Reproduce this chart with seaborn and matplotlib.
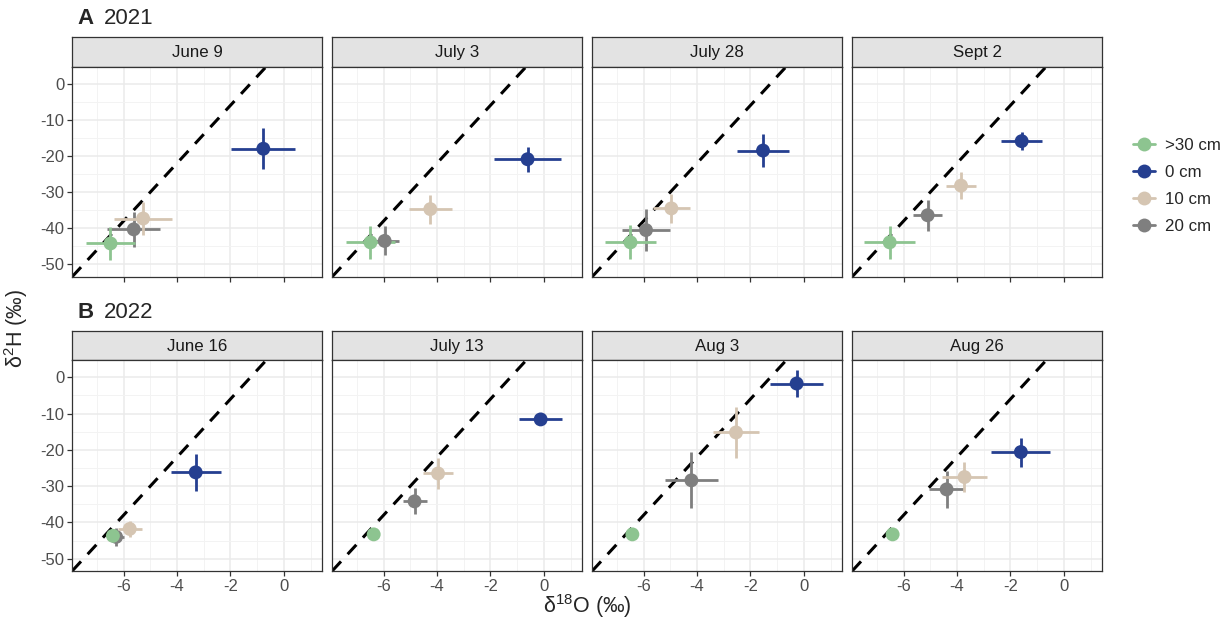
import numpy as np
import pandas as pd
import matplotlib
matplotlib.use("Agg")
import matplotlib.pyplot as plt
import seaborn as sns
from matplotlib.lines import Line2D
from matplotlib.ticker import MultipleLocator

# ---- data -------------------------------------------------------------
dates = ["June 9", "July 3", "July 28", "Sept 2",
         "June 16", "July 13", "Aug 3", "Aug 26"]
years = [2021, 2021, 2021, 2021, 2022, 2022, 2022, 2022]
depths = [">30 cm", "0 cm", "10 cm", "20 cm"]

# mean d18O per depth, one value per sampling date
d18O_30 = [-6.49, -6.49, -6.49, -6.52, -6.40, -6.37, -6.42, -6.41]
d18O_0 = [-0.77, -0.61, -1.53, -1.58, -3.30, -0.12, -0.27, -1.61]
d18O_10 = [-5.27, -4.25, -4.96, -3.85, -5.77, -3.96, -2.54, -3.72]
d18O_20 = [-5.62, -5.96, -5.91, -5.10, -6.28, -4.84, -4.21, -4.39]

# standard deviation of d18O
d18O_sd_30 = [0.90, 0.93, 0.95, 0.95, 0.05, 0.05, 0.05, 0.05]
d18O_sd_0 = [1.20, 1.25, 0.96, 0.77, 0.93, 0.80, 1.00, 1.10]
d18O_sd_10 = [1.10, 0.80, 0.70, 0.56, 0.45, 0.56, 0.85, 0.86]
d18O_sd_20 = [1.00, 0.55, 0.90, 0.53, 0.30, 0.45, 0.98, 0.67]

# mean d2H
d2H_30 = [-44.2, -43.9, -43.9, -43.9, -43.7, -43.3, -43.3, -43.3]
d2H_0 = [-18.0, -20.9, -18.5, -15.9, -26.2, -11.6, -1.7, -20.6]
d2H_10 = [-37.3, -34.7, -34.5, -28.2, -41.8, -26.5, -15.2, -27.5]
d2H_20 = [-40.3, -43.5, -40.5, -36.4, -44.0, -34.2, -28.4, -30.9]

# standard deviation of d2H
d2H_sd_30 = [4.5, 4.6, 4.7, 4.6, 0.3, 0.3, 0.3, 0.3]
d2H_sd_0 = [5.7, 3.5, 4.5, 2.5, 5.2, 1.0, 3.8, 4.0]
d2H_sd_10 = [4.6, 4.0, 4.1, 3.8, 2.3, 4.2, 7.1, 4.2]
d2H_sd_20 = [4.9, 4.0, 5.9, 4.25, 2.5, 3.6, 7.7, 5.0]

# Global Meteoric Water Line: d2H = 8 * d18O + 10
gmwl_slope = 8
gmwl_intercept = 10

palette = {">30 cm": "#8DC490", "0 cm": "#253F90",
           "10 cm": "#D5C5B2", "20 cm": "#7F7F7F"}
draw_order = ["20 cm", "10 cm", "0 cm", ">30 cm"]

rows = []
for depth, xo, xs, yh, ys in [
    (">30 cm", d18O_30, d18O_sd_30, d2H_30, d2H_sd_30),
    ("0 cm", d18O_0, d18O_sd_0, d2H_0, d2H_sd_0),
    ("10 cm", d18O_10, d18O_sd_10, d2H_10, d2H_sd_10),
    ("20 cm", d18O_20, d18O_sd_20, d2H_20, d2H_sd_20),
]:
    for i, date in enumerate(dates):
        rows.append(dict(date=date, year=years[i], depth=depth,
                         d18O=xo[i], d18O_sd=xs[i], d2H=yh[i], d2H_sd=ys[i]))
df = pd.DataFrame(rows)

# ---- styling ----------------------------------------------------------
sns.set_theme(style="white")
plt.rcParams["font.family"] = ["Liberation Sans", "DejaVu Sans"]
plt.rcParams["mathtext.fontset"] = "custom"
plt.rcParams["mathtext.rm"] = "Liberation Sans"
plt.rcParams["mathtext.it"] = "Liberation Sans:italic"

W, H = 1231, 630
fig = plt.figure(figsize=(W / 100, H / 100), dpi=100)
fig.patch.set_facecolor("white")


def px_axes(x0, y0, x1, y1):
    return fig.add_axes([x0 / W, 1 - y1 / H, (x1 - x0) / W, (y1 - y0) / H])


panel_left = [72.3, 332.3, 592.3, 852.3]
panel_w = 249.5
row_geom = {2021: (37.3, 66.7, 276.7), 2022: (331.0, 360.3, 571.0)}
xlim = (-7.92, 1.42)
ylim = (-53.4, 4.7)
border = "#333333"

for idx, date in enumerate(dates):
    year = years[idx]
    col = idx % 4
    s_top, p_top, p_bot = row_geom[year]
    x0 = panel_left[col]
    x1 = x0 + panel_w

    # facet strip
    sax = px_axes(x0, s_top, x1, p_top)
    sax.set_facecolor("#E3E3E3")
    sax.set_xticks([]); sax.set_yticks([])
    for sp in sax.spines.values():
        sp.set_color(border); sp.set_linewidth(0.9); sp.set_visible(True)
    sax.text(0.5, 0.47, date, ha="center", va="center", fontsize=12.2,
             color="#1A1A1A", transform=sax.transAxes)

    ax = px_axes(x0, p_top, x1, p_bot)
    ax.set_facecolor("white")
    ax.set_xlim(*xlim); ax.set_ylim(*ylim)
    ax.xaxis.set_major_locator(MultipleLocator(2))
    ax.xaxis.set_minor_locator(MultipleLocator(1))
    ax.yaxis.set_major_locator(MultipleLocator(10))
    ax.yaxis.set_minor_locator(MultipleLocator(5))
    ax.grid(which="major", color="#EBEBEB", linewidth=1.1, zorder=0)
    ax.grid(which="minor", color="#F3F3F3", linewidth=0.7, zorder=0)
    ax.set_axisbelow(True)
    for sp in ax.spines.values():
        sp.set_color(border); sp.set_linewidth(0.9); sp.set_visible(True)

    ax.axline((0, gmwl_intercept), slope=gmwl_slope, color="black",
              linewidth=2.2, linestyle=(0, (4.2, 3.2)), zorder=2)

    sub = df[df["date"] == date]
    for depth in draw_order:
        r = sub[sub["depth"] == depth]
        ax.errorbar(r["d18O"], r["d2H"], xerr=r["d18O_sd"], yerr=r["d2H_sd"],
                    fmt="none", ecolor=palette[depth], elinewidth=2.0,
                    capsize=0, zorder=3)
    pts = sub.set_index("depth").loc[draw_order].reset_index()
    sns.scatterplot(data=pts, x="d18O", y="d2H", hue="depth",
                    hue_order=depths, palette=palette, s=100, linewidth=0,
                    legend=False, ax=ax, zorder=4)
    ax.set_xlabel(""); ax.set_ylabel("")

    ax.tick_params(axis="both", which="major", length=3.5, width=0.9,
                   color=border, labelsize=12, labelcolor="#4D4D4D",
                   direction="out", pad=2)
    ax.tick_params(which="minor", length=0)
    ax.tick_params(axis="x", bottom=True, labelbottom=(year == 2022))
    ax.tick_params(axis="y", left=(col == 0), labelleft=(col == 0))
    ax.set_xticks([-6, -4, -2, 0])
    ax.set_xticklabels(["-6", "-4", "-2", "0"])
    ax.set_yticks([0, -10, -20, -30, -40, -50])
    ax.set_yticklabels(["0", "-10", "-20", "-30", "-40", "-50"])

# row titles
fig.text(77 / W, 1 - 18 / H, "A", fontsize=16, fontweight="bold",
         ha="left", va="center")
fig.text(104 / W, 1 - 18 / H, "2021", fontsize=16, ha="left", va="center")
fig.text(77 / W, 1 - 313 / H, "B", fontsize=16, fontweight="bold",
         ha="left", va="center")
fig.text(104 / W, 1 - 313 / H, "2022", fontsize=16, ha="left", va="center")

# axis titles
fig.text(587 / W, 1 - 606 / H, r"δ$^{18}$O (‰)", fontsize=15.5,
         ha="center", va="center")
fig.text(16 / W, 1 - 328 / H, r"δ$^{2}$H (‰)", fontsize=15.5,
         ha="center", va="center", rotation=90)

# legend
handles = [Line2D([0], [0], color=palette[d], linewidth=2.0, marker="o",
                  markersize=10, markeredgewidth=0) for d in depths]
fig.legend(handles, depths, loc="center left",
           bbox_to_anchor=(1133 / W, 1 - 186 / H), frameon=False,
           fontsize=12.2, handlelength=1.3, handletextpad=0.6,
           labelspacing=0.72, borderaxespad=0, borderpad=0)

fig.savefig("out.png", dpi=100, facecolor="white")
